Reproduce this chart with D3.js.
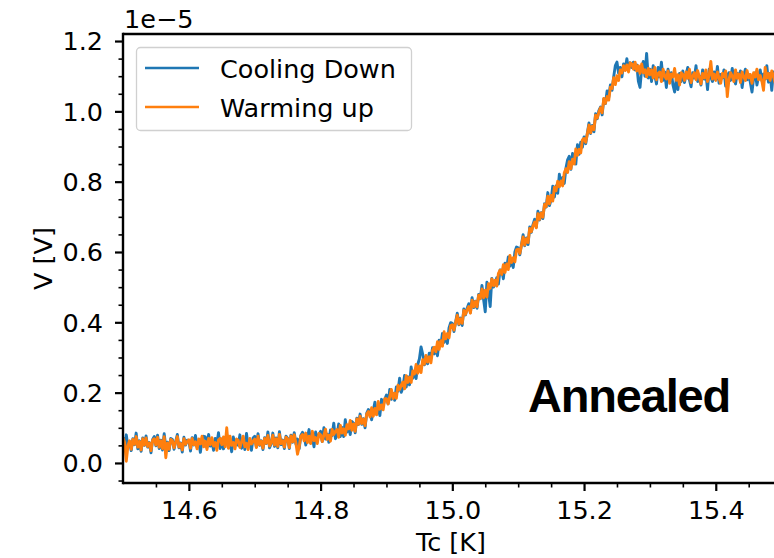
<!DOCTYPE html>
<html>
<head>
<meta charset="utf-8">
<script src="https://cdn.jsdelivr.net/npm/d3@7"></script>
<style>
  html, body { margin: 0; padding: 0; background: #fff; }
  svg { display: block; }
</style>
</head>
<body>
<svg id="chart" width="774" height="558"></svg>
<script>
// Sample temperatures (K)
const temperature = [
  14.5000,14.5025,14.5050,14.5075,14.5100,14.5125,14.5150,14.5175,14.5200,14.5225,
  14.5250,14.5275,14.5300,14.5325,14.5350,14.5375,14.5400,14.5425,14.5450,14.5475,
  14.5500,14.5525,14.5550,14.5575,14.5600,14.5625,14.5650,14.5675,14.5700,14.5725,
  14.5750,14.5775,14.5800,14.5825,14.5850,14.5875,14.5900,14.5925,14.5950,14.5975,
  14.6000,14.6025,14.6050,14.6075,14.6100,14.6125,14.6150,14.6175,14.6200,14.6225,
  14.6250,14.6275,14.6300,14.6325,14.6350,14.6375,14.6400,14.6425,14.6450,14.6475,
  14.6500,14.6525,14.6550,14.6575,14.6600,14.6625,14.6650,14.6675,14.6700,14.6725,
  14.6750,14.6775,14.6800,14.6825,14.6850,14.6875,14.6900,14.6925,14.6950,14.6975,
  14.7000,14.7025,14.7050,14.7075,14.7100,14.7125,14.7150,14.7175,14.7200,14.7225,
  14.7250,14.7275,14.7300,14.7325,14.7350,14.7375,14.7400,14.7425,14.7450,14.7475,
  14.7500,14.7525,14.7550,14.7575,14.7600,14.7625,14.7650,14.7675,14.7700,14.7725,
  14.7750,14.7775,14.7800,14.7825,14.7850,14.7875,14.7900,14.7925,14.7950,14.7975,
  14.8000,14.8025,14.8050,14.8075,14.8100,14.8125,14.8150,14.8175,14.8200,14.8225,
  14.8250,14.8275,14.8300,14.8325,14.8350,14.8375,14.8400,14.8425,14.8450,14.8475,
  14.8500,14.8525,14.8550,14.8575,14.8600,14.8625,14.8650,14.8675,14.8700,14.8725,
  14.8750,14.8775,14.8800,14.8825,14.8850,14.8875,14.8900,14.8925,14.8950,14.8975,
  14.9000,14.9025,14.9050,14.9075,14.9100,14.9125,14.9150,14.9175,14.9200,14.9225,
  14.9250,14.9275,14.9300,14.9325,14.9350,14.9375,14.9400,14.9425,14.9450,14.9475,
  14.9500,14.9525,14.9550,14.9575,14.9600,14.9625,14.9650,14.9675,14.9700,14.9725,
  14.9750,14.9775,14.9800,14.9825,14.9850,14.9875,14.9900,14.9925,14.9950,14.9975,
  15.0000,15.0025,15.0050,15.0075,15.0100,15.0125,15.0150,15.0175,15.0200,15.0225,
  15.0250,15.0275,15.0300,15.0325,15.0350,15.0375,15.0400,15.0425,15.0450,15.0475,
  15.0500,15.0525,15.0550,15.0575,15.0600,15.0625,15.0650,15.0675,15.0700,15.0725,
  15.0750,15.0775,15.0800,15.0825,15.0850,15.0875,15.0900,15.0925,15.0950,15.0975,
  15.1000,15.1025,15.1050,15.1075,15.1100,15.1125,15.1150,15.1175,15.1200,15.1225,
  15.1250,15.1275,15.1300,15.1325,15.1350,15.1375,15.1400,15.1425,15.1450,15.1475,
  15.1500,15.1525,15.1550,15.1575,15.1600,15.1625,15.1650,15.1675,15.1700,15.1725,
  15.1750,15.1775,15.1800,15.1825,15.1850,15.1875,15.1900,15.1925,15.1950,15.1975,
  15.2000,15.2025,15.2050,15.2075,15.2100,15.2125,15.2150,15.2175,15.2200,15.2225,
  15.2250,15.2275,15.2300,15.2325,15.2350,15.2375,15.2400,15.2425,15.2450,15.2475,
  15.2500,15.2525,15.2550,15.2575,15.2600,15.2625,15.2650,15.2675,15.2700,15.2725,
  15.2750,15.2775,15.2800,15.2825,15.2850,15.2875,15.2900,15.2925,15.2950,15.2975,
  15.3000,15.3025,15.3050,15.3075,15.3100,15.3125,15.3150,15.3175,15.3200,15.3225,
  15.3250,15.3275,15.3300,15.3325,15.3350,15.3375,15.3400,15.3425,15.3450,15.3475,
  15.3500,15.3525,15.3550,15.3575,15.3600,15.3625,15.3650,15.3675,15.3700,15.3725,
  15.3750,15.3775,15.3800,15.3825,15.3850,15.3875,15.3900,15.3925,15.3950,15.3975,
  15.4000,15.4025,15.4050,15.4075,15.4100,15.4125,15.4150,15.4175,15.4200,15.4225,
  15.4250,15.4275,15.4300,15.4325,15.4350,15.4375,15.4400,15.4425,15.4450,15.4475,
  15.4500,15.4525,15.4550,15.4575,15.4600,15.4625,15.4650,15.4675,15.4700,15.4725,
  15.4750,15.4775,15.4800,15.4825,15.4850,15.4875,15.4900,15.4925,15.4950,15.4975
];

// Voltage while cooling down (units of 1e-5 V)
const coolingDown = [
  0.073,0.043,0.080,0.047,0.060,0.035,0.069,0.052,0.085,0.040,
  0.063,0.033,0.071,0.050,0.077,0.045,0.058,0.029,0.067,0.075,
  0.049,0.079,0.041,0.065,0.037,0.083,0.046,0.059,0.035,0.070,
  0.067,0.039,0.061,0.081,0.043,0.057,0.031,0.073,0.051,0.065,
  0.064,0.034,0.072,0.051,0.078,0.046,0.059,0.030,0.068,0.076,
  0.074,0.044,0.081,0.048,0.061,0.036,0.070,0.053,0.086,0.041,
  0.068,0.040,0.062,0.082,0.044,0.058,0.032,0.074,0.052,0.066,
  0.050,0.080,0.042,0.066,0.038,0.084,0.047,0.060,0.036,0.071,
  0.076,0.046,0.083,0.050,0.063,0.038,0.072,0.055,0.088,0.043,
  0.055,0.085,0.047,0.071,0.043,0.089,0.052,0.065,0.041,0.076,
  0.070,0.041,0.079,0.059,0.086,0.054,0.068,0.040,0.078,0.087,
  0.079,0.051,0.074,0.095,0.057,0.072,0.046,0.088,0.067,0.081,
  0.090,0.061,0.100,0.068,0.082,0.059,0.094,0.078,0.113,0.069,
  0.079,0.111,0.075,0.101,0.075,0.123,0.088,0.103,0.081,0.118,
  0.113,0.086,0.127,0.109,0.139,0.110,0.126,0.100,0.141,0.152,
  0.147,0.123,0.149,0.173,0.139,0.157,0.135,0.181,0.163,0.181,
  0.193,0.168,0.209,0.181,0.198,0.178,0.216,0.204,0.241,0.201,
  0.214,0.249,0.216,0.245,0.222,0.273,0.241,0.259,0.240,0.280,
  0.296,0.330,0.310,0.279,0.302,0.282,0.312,0.297,0.328,0.310,
  0.328,0.305,0.349,0.335,0.368,0.343,0.362,0.340,0.384,0.399,
  0.397,0.374,0.401,0.426,0.393,0.412,0.391,0.438,0.421,0.440,
  0.453,0.428,0.470,0.442,0.460,0.440,0.479,0.467,0.505,0.465,
  0.430,0.514,0.482,0.445,0.525,0.500,0.509,0.527,0.509,0.549,
  0.548,0.524,0.568,0.553,0.586,0.560,0.579,0.556,0.600,0.614,
  0.612,0.592,0.621,0.649,0.618,0.640,0.621,0.671,0.656,0.678,
  0.693,0.671,0.716,0.691,0.712,0.695,0.737,0.728,0.769,0.732,
  0.749,0.787,0.756,0.788,0.767,0.821,0.791,0.812,0.795,0.838,
  0.862,0.872,0.835,0.880,0.858,0.850,0.905,0.878,0.912,0.898,
  0.927,0.908,0.938,0.967,0.937,0.960,0.942,0.993,0.979,1.002,
  1.012,0.990,1.035,1.022,1.058,1.040,1.075,1.060,1.098,1.130,
  1.140,1.108,1.125,1.098,1.135,1.120,1.150,1.118,1.138,1.125,
  1.140,1.118,1.132,1.085,1.068,1.120,1.142,1.100,1.165,1.095,
  1.120,1.085,1.130,1.102,1.078,1.125,1.098,1.140,1.088,1.112,
  1.068,1.120,1.095,1.110,1.075,1.055,1.090,1.062,1.108,1.085,
  1.115,1.082,1.105,1.125,1.090,1.070,1.110,1.095,1.130,1.085,
  1.100,1.075,1.118,1.092,1.108,1.062,1.120,1.097,1.085,1.112,
  1.090,1.128,1.080,1.105,1.095,1.118,1.072,1.100,1.110,1.088,
  1.122,1.093,1.078,1.108,1.097,1.115,1.068,1.102,1.120,1.090,
  1.105,1.082,1.055,1.095,1.110,1.075,1.100,1.118,1.088,1.106,
  1.092,1.130,1.083,1.108,1.060,1.112,1.095,1.120,1.085,1.102
];

// Voltage while warming up (units of 1e-5 V)
const warmingUp = [
  0.072,0.058,0.005,0.049,0.063,0.039,0.067,0.053,0.075,0.045,
  0.061,0.037,0.069,0.051,0.071,0.047,0.057,0.035,0.065,0.069,
  0.051,0.073,0.045,0.063,0.041,0.075,0.015,0.057,0.039,0.067,
  0.063,0.043,0.059,0.075,0.045,0.055,0.037,0.069,0.053,0.061,
  0.066,0.042,0.070,0.052,0.060,0.040,0.068,0.054,0.076,0.046,
  0.062,0.038,0.070,0.052,0.072,0.048,0.058,0.036,0.066,0.070,
  0.052,0.074,0.046,0.100,0.042,0.076,0.050,0.058,0.040,0.068,
  0.064,0.044,0.060,0.076,0.046,0.056,0.038,0.070,0.054,0.062,
  0.068,0.044,0.076,0.052,0.062,0.042,0.070,0.056,0.078,0.048,
  0.057,0.079,0.051,0.069,0.047,0.081,0.055,0.063,0.045,0.073,
  0.068,0.044,0.077,0.060,0.080,0.057,0.025,0.046,0.076,0.081,
  0.063,0.085,0.058,0.076,0.055,0.090,0.064,0.072,0.055,0.084,
  0.080,0.061,0.079,0.096,0.067,0.079,0.062,0.095,0.081,0.090,
  0.095,0.073,0.107,0.085,0.097,0.079,0.109,0.097,0.121,0.093,
  0.111,0.090,0.125,0.110,0.133,0.112,0.125,0.106,0.139,0.146,
  0.131,0.157,0.133,0.155,0.137,0.175,0.153,0.165,0.151,0.183,
  0.183,0.168,0.188,0.209,0.183,0.198,0.184,0.221,0.209,0.222,
  0.230,0.211,0.248,0.229,0.244,0.229,0.262,0.253,0.280,0.255,
  0.276,0.257,0.294,0.281,0.306,0.287,0.302,0.285,0.320,0.329,
  0.316,0.345,0.323,0.348,0.332,0.373,0.353,0.368,0.356,0.391,
  0.393,0.378,0.399,0.420,0.395,0.410,0.397,0.434,0.423,0.436,
  0.445,0.426,0.463,0.444,0.459,0.444,0.477,0.468,0.495,0.470,
  0.491,0.472,0.510,0.497,0.523,0.504,0.520,0.503,0.539,0.548,
  0.536,0.564,0.542,0.566,0.550,0.590,0.570,0.584,0.572,0.606,
  0.608,0.596,0.619,0.643,0.620,0.638,0.627,0.667,0.658,0.674,
  0.685,0.669,0.709,0.693,0.711,0.699,0.735,0.729,0.759,0.737,
  0.761,0.745,0.784,0.774,0.801,0.785,0.802,0.788,0.825,0.837,
  0.826,0.857,0.837,0.864,0.850,0.893,0.875,0.892,0.882,0.919,
  0.923,0.912,0.936,0.961,0.939,0.958,0.948,0.989,0.981,0.998,
  1.010,0.996,1.037,1.023,1.042,1.032,1.069,1.065,1.096,1.076,
  1.101,1.088,1.118,1.109,1.130,1.116,1.132,1.112,1.138,1.135,
  1.120,1.140,1.115,1.130,1.108,1.135,1.110,1.118,1.098,1.122,
  1.104,1.118,1.095,1.125,1.090,1.108,1.112,1.085,1.120,1.100,
  1.092,1.115,1.080,1.106,1.098,1.122,1.088,1.104,1.075,1.110,
  1.105,1.088,1.112,1.094,1.120,1.082,1.100,1.110,1.090,1.116,
  1.098,1.078,1.108,1.095,1.118,1.085,1.102,1.142,1.092,1.106,
  1.088,1.112,1.095,1.080,1.108,1.098,1.115,1.042,1.090,1.110,
  1.100,1.085,1.118,1.094,1.106,1.082,1.112,1.098,1.088,1.116,
  1.095,1.105,1.080,1.110,1.098,1.120,1.090,1.102,1.086,1.060,
  1.125,1.095,1.108,1.088,1.115,1.100,1.082,1.110,1.096,1.104
];

const seriesNames = ["Cooling Down", "Warming up"];
const seriesColors = ["#1f77b4", "#ff7f0e"];
const xTicks = [14.6, 14.8, 15.0, 15.2, 15.4];
const xMinorTicks = [14.55, 14.65, 14.7, 14.75, 14.85, 14.9, 14.95, 15.05, 15.1, 15.15, 15.25, 15.3, 15.35, 15.45];
const yTicks = [0.0, 0.2, 0.4, 0.6, 0.8, 1.0, 1.2];
const yMinorTicks = [-0.05, 0.05, 0.1, 0.15, 0.25, 0.3, 0.35, 0.45, 0.5, 0.55, 0.65, 0.7, 0.75, 0.85, 0.9, 0.95, 1.05, 1.1, 1.15];
const xDomain = [14.5, 15.496];
const yDomain = [-0.057, 1.22];

const svg = d3.select("#chart");
const plot = { left: 123, top: 34, right: 779, bottom: 483 };
const FONT = "DejaVu Sans, sans-serif";
const FS = 25.5;

const x = d3.scaleLinear().domain(xDomain).range([plot.left, plot.right]);
const y = d3.scaleLinear().domain(yDomain).range([plot.bottom, plot.top]);

svg.append("rect").attr("width", 774).attr("height", 558).attr("fill", "#fff");

svg.append("defs").append("clipPath").attr("id", "plotClip")
  .append("rect")
  .attr("x", plot.left).attr("y", plot.top)
  .attr("width", plot.right - plot.left).attr("height", plot.bottom - plot.top);

// Measured curves: cooling first, warming drawn on top
const line = d3.line()
  .x((d, i) => x(temperature[i]))
  .y(d => y(d));

const lines = svg.append("g").attr("clip-path", "url(#plotClip)");
[coolingDown, warmingUp].forEach((vals, k) => {
  lines.append("path")
    .datum(vals)
    .attr("d", line)
    .attr("fill", "none")
    .attr("stroke", seriesColors[k])
    .attr("stroke-width", 2.9)
    .attr("stroke-linejoin", "round");
});

// Axes with major and minor ticks
const fmt = d3.format(".1f");
function styleTicks(g, width) {
  g.select(".domain").remove();
  g.selectAll("line").attr("stroke", "#000").attr("stroke-width", width);
  g.selectAll("text").style("font-family", FONT).style("font-size", FS + "px").attr("fill", "#000");
}

svg.append("g").attr("transform", `translate(0,${plot.bottom})`)
  .call(d3.axisBottom(x).tickValues(xMinorTicks).tickSize(4.5).tickFormat(""))
  .call(g => styleTicks(g, 1.6));
svg.append("g").attr("transform", `translate(0,${plot.bottom})`)
  .call(d3.axisBottom(x).tickValues(xTicks).tickSize(8).tickPadding(10).tickFormat(fmt))
  .call(g => styleTicks(g, 2.2))
  .call(g => g.selectAll("text").attr("dy", "0.72em"));

svg.append("g").attr("transform", `translate(${plot.left},0)`)
  .call(d3.axisLeft(y).tickValues(yMinorTicks).tickSize(4.5).tickFormat(""))
  .call(g => styleTicks(g, 1.6));
svg.append("g").attr("transform", `translate(${plot.left},0)`)
  .call(d3.axisLeft(y).tickValues(yTicks).tickSize(8).tickPadding(12).tickFormat(fmt))
  .call(g => styleTicks(g, 2.2))
  .call(g => g.selectAll("text").attr("dy", "0.35em"));

// Spines
svg.append("line").attr("x1", plot.left).attr("x2", plot.right)
  .attr("y1", plot.top).attr("y2", plot.top)
  .attr("stroke", "#000").attr("stroke-width", 2.4);
svg.append("line").attr("x1", plot.left).attr("x2", plot.right)
  .attr("y1", plot.bottom).attr("y2", plot.bottom)
  .attr("stroke", "#000").attr("stroke-width", 2.4);
svg.append("line").attr("x1", plot.left).attr("x2", plot.left)
  .attr("y1", plot.top - 1.2).attr("y2", plot.bottom + 1.2)
  .attr("stroke", "#000").attr("stroke-width", 2.4);

// Offset text and axis labels
function label(sel) {
  return sel.style("font-family", FONT).style("font-size", FS + "px").attr("fill", "#000");
}
svg.append("text").attr("x", 124).attr("y", 28).call(label).text("1e\u22125");
svg.append("text").attr("x", (plot.left + plot.right) / 2).attr("y", 551)
  .attr("text-anchor", "middle").call(label).text("Tc [K]");
svg.append("text").attr("transform", `translate(52,${(plot.top + plot.bottom) / 2}) rotate(-90)`)
  .attr("text-anchor", "middle").call(label).text("V [V]");

// Legend
const legend = svg.append("g");
legend.append("rect")
  .attr("x", 136.5).attr("y", 47.5).attr("width", 275).attr("height", 83)
  .attr("rx", 4).attr("fill", "#fff").attr("fill-opacity", 0.8)
  .attr("stroke", "#d0d0d0").attr("stroke-width", 1.3);
seriesNames.forEach((name, k) => {
  const ly = 68 + k * 39;
  legend.append("line").attr("x1", 145).attr("x2", 199).attr("y1", ly).attr("y2", ly)
    .attr("stroke", seriesColors[k]).attr("stroke-width", 2.5);
  legend.append("text").attr("x", 220).attr("y", ly + 9.5).call(label).text(name);
});

// Sample annotation
svg.append("text").attr("x", 528).attr("y", 412)
  .style("font-family", "'Liberation Sans', Arial, sans-serif")
  .style("font-weight", "bold").style("font-size", "47px").style("letter-spacing", "-1.2px")
  .attr("fill", "#000")
  .text("Annealed");
</script>
</body>
</html>
